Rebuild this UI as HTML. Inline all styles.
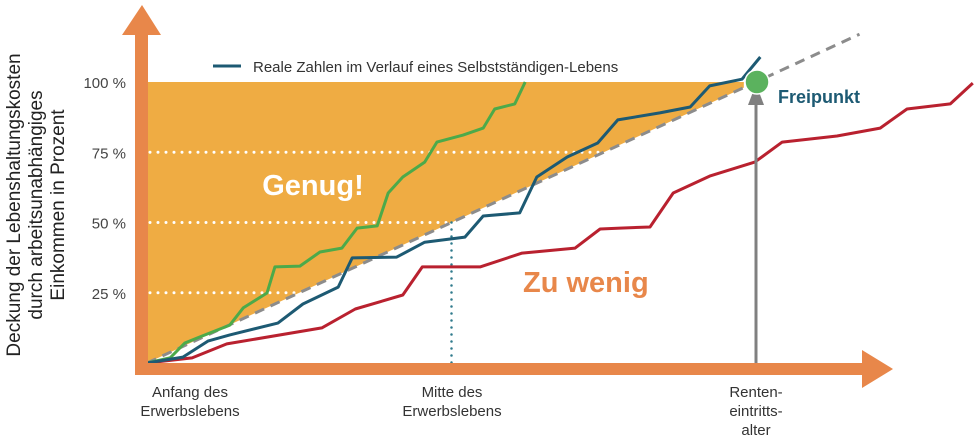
<!DOCTYPE html>
<html><head><meta charset="utf-8"><style>
html,body{margin:0;padding:0;background:#fff;width:978px;height:442px;overflow:hidden}
svg{display:block;font-family:"Liberation Sans",sans-serif}
</style></head><body>
<svg id="chart" width="978" height="442" viewBox="0 0 978 442">
<g id="fillLayer"></g>
<g id="gridLayer"></g>
<g id="lineLayer"></g>
<g id="axisLayer"></g>
<g id="textLayer"></g>
</svg>
<script>
const yTicks=[25,50,75,100];
const yTickLabels=["25 %","50 %","75 %","100 %"];
const greenT=[0,3.8,6.2,8.7,13.6,15.8,19.7,21.0,25.1,28.4,32.0,34.5,37.8,39.6,42.0,45.6,47.6,51.9,55.2,57.1,60.4,62.1];
const greenV=[0,1.8,7.1,9.3,13.5,19.6,24.9,34.2,34.5,39.5,40.9,48.0,48.8,60.5,66.2,71.5,78.6,81.1,83.6,90.4,92.2,100];
const blueT=[0,5.9,10,13.6,21.5,25.6,31.4,33.7,41,45.6,52.2,55.2,61.2,64,69,74,77.3,84.2,89.2,92.4,97.7,100.7];
const blueV=[0,2.1,7.8,10,14.2,21,27,37.4,37.7,43,44.8,52.3,53.4,66.2,73.3,78.3,86.5,89,91.1,98.6,101,108.9];
const redT=[0,7.4,13.1,28.7,34.2,42,45.2,54.7,61.6,70.3,74.4,77.7,82.6,86.4,92.4,99.8,104.3,113.3,120.4,124.8,131.9,135.6];
const redV=[0,1.8,6.8,12.5,19.2,24.2,34.2,34.2,39.1,40.9,47.7,48,48.4,60.5,66.5,71.5,78.6,80.8,83.6,90.4,92.2,99.6];
const targetT=[0,117];
const targetV=[0,117];

const NS="http://www.w3.org/2000/svg";
const X=t=>147+t*6.09, Y=v=>363-v*2.81;
function mk(tag,attrs,parent,text){const e=document.createElementNS(NS,tag);for(const k in attrs)e.setAttribute(k,attrs[k]);if(text!==undefined)e.textContent=text;document.getElementById(parent).appendChild(e);return e;}
const pts=(T,V)=>T.map((t,i)=>X(t).toFixed(1)+","+Y(V[i]).toFixed(1)).join(" ");

// fill area above target line, below 100%
const tEnd=98;
let f=mk('polygon',{points:`${X(0)},${Y(0)} ${X(0)},${Y(100)} ${X(tEnd)},${Y(100)} ${X(tEnd)},${Y(tEnd*targetV[1]/targetT[1])}`,fill:'#efac43'},'fillLayer');



// dotted gridlines
[75,50,25].forEach(v=>{
 const tx=v*targetT[1]/targetV[1];
 const g=mk('line',{x1:X(0)+3,x2:X(tx),y1:Y(v),y2:Y(v),stroke:'#fff','stroke-width':3,'stroke-dasharray':'0 8','stroke-linecap':'round'},'gridLayer');
 
 
});
let mv=mk('line',{x1:X(50),x2:X(50),y1:Y(50),y2:Y(0),stroke:'#2f7a8c','stroke-width':2.5,'stroke-dasharray':'0 7','stroke-linecap':'round'},'gridLayer');



let tl=mk('polyline',{points:pts(targetT,targetV),fill:'none',stroke:'#8c8c8c','stroke-width':3,'stroke-dasharray':'10 7'},'lineLayer');


[[redT,redV,'#b9212f','red-series'],[greenT,greenV,'#4caa4a','green-series'],[blueT,blueV,'#1d5a73','real-series']].forEach(s=>{
 const l=mk('polyline',{points:pts(s[0],s[1]),fill:'none',stroke:s[2],'stroke-width':3,'stroke-linejoin':'round'},'lineLayer');
 
 
});
// retirement arrow
let ga=mk('line',{x1:X(100),x2:X(100),y1:363,y2:100,stroke:'#808080','stroke-width':3},'axisLayer');


let gh=mk('polygon',{points:`${X(100)-8},105 ${X(100)},84 ${X(100)+8},105`,fill:'#808080'},'axisLayer');


let c=mk('circle',{cx:X(100)+1,cy:Y(100),r:12,fill:'#5bb25e',stroke:'#fff','stroke-width':1.5},'axisLayer');


// axes
let ya=mk('polygon',{points:'135,375 135,35 122,35 142,5 161,35 148,35 148,375',fill:'#e8874a'},'axisLayer');


let xa=mk('polygon',{points:'135,363 862,363 862,350 893,369 862,388 862,375 135,375',fill:'#e8874a'},'axisLayer');


// y tick labels
yTicks.forEach((v,i)=>{
 const t=mk('text',{x:126,y:Y(v)+6,'text-anchor':'end','font-size':15,fill:'#444'},'textLayer',yTickLabels[i]);
 
 
});
</script>
<svg width="978" height="442" style="position:absolute;left:0;top:0">
<g font-family="Liberation Sans, sans-serif">
<text transform="translate(20,205) rotate(-90)" text-anchor="middle" font-size="19" fill="#222"><tspan x="0" y="0">Deckung der Lebenshaltungskosten</tspan><tspan x="0" y="22">durch arbeitsunabhängiges</tspan><tspan x="0" y="44">Einkommen in Prozent</tspan></text>
<line x1="213" y1="66" x2="241" y2="66" stroke="#1d5a73" stroke-width="3"/>
<text x="253" y="72" font-size="15" fill="#333">Reale Zahlen im Verlauf eines Selbstständigen-Lebens</text>
<text x="313" y="195" text-anchor="middle" font-size="29" font-weight="bold" fill="#fff">Genug!</text>
<text x="523" y="292" font-size="29" font-weight="bold" fill="#e8874a">Zu wenig</text>
<text x="778" y="103" font-size="18" font-weight="bold" fill="#1d5a73">Freipunkt</text>
<g font-size="15" fill="#333" text-anchor="middle">
<text x="190" y="397"><tspan x="190">Anfang des</tspan><tspan x="190" dy="19">Erwerbslebens</tspan></text>
<text x="452" y="397"><tspan x="452">Mitte des</tspan><tspan x="452" dy="19">Erwerbslebens</tspan></text>
<text x="756" y="397"><tspan x="756">Renten-</tspan><tspan x="756" dy="19">eintritts-</tspan><tspan x="756" dy="19">alter</tspan></text>
</g>
</g>
</svg>
</body></html>
